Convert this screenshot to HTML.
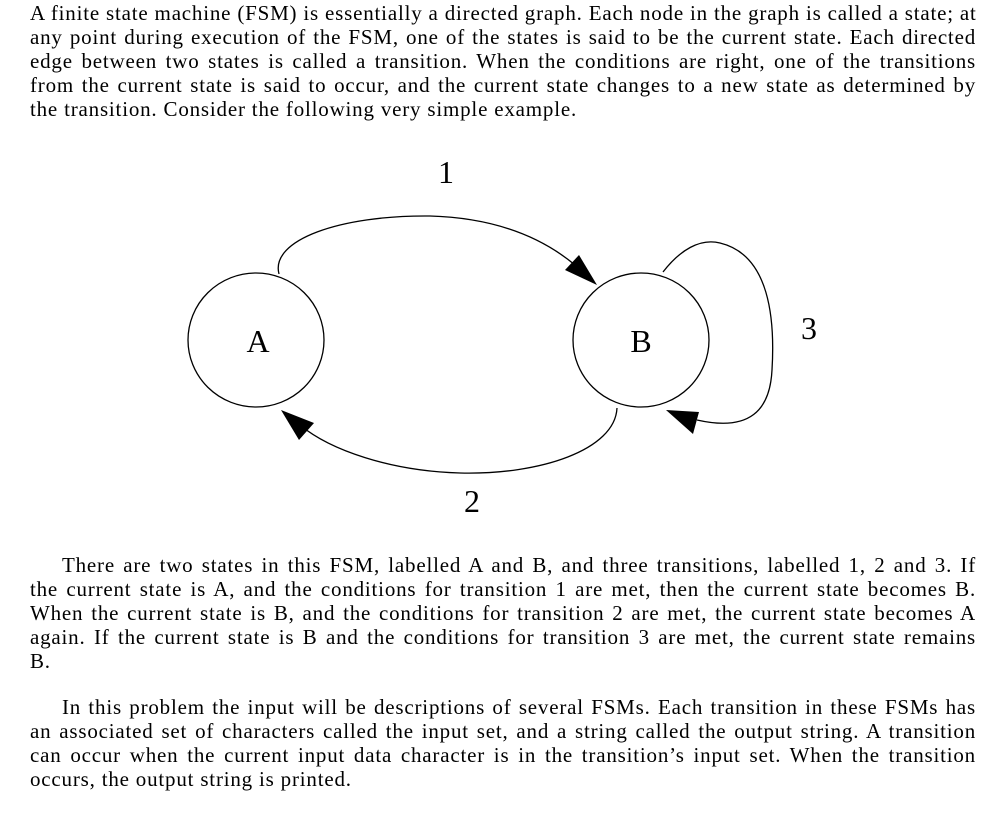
<!DOCTYPE html>
<html><head><meta charset="utf-8"><style>
body{margin:0;background:#fff;width:1006px;height:826px;overflow:hidden;font-family:"Liberation Serif",serif;color:#000}
.l{position:absolute;left:30px;width:946px;margin:0;font-size:21px;letter-spacing:0.8px;line-height:24px;text-align:justify;text-align-last:justify;white-space:nowrap}
.e{text-align-last:left}
</style></head><body>
<div class="l" style="top:1px">A finite state machine (FSM) is essentially a directed graph. Each node in the graph is called a state; at</div>
<div class="l" style="top:25px">any point during execution of the FSM, one of the states is said to be the current state. Each directed</div>
<div class="l" style="top:49px">edge between two states is called a transition. When the conditions are right, one of the transitions</div>
<div class="l" style="top:73px">from the current state is said to occur, and the current state changes to a new state as determined by</div>
<div class="l e" style="top:97px">the transition. Consider the following very simple example.</div>
<svg style="position:absolute;left:0;top:0" width="1006" height="826">
<g fill="none" stroke="#000" stroke-width="1.3">
<ellipse cx="256" cy="340" rx="68" ry="67"/>
<ellipse cx="641" cy="340" rx="68" ry="67"/>
<path d="M279 274 C270 240 340 215 430 216 C500 218 545 240 575 265"/>
<path d="M617 408 C615 450 540 475 460 473 C390 471 330 450 300 425"/>
<path d="M663 272 C680 250 700 238 720 243 C770 255 775 320 772 370 C770 410 750 432 697 420"/>
</g>
<g fill="#000">
<polygon points="597,285 565,270 579,255"/>
<polygon points="281,410 314,423 299,440"/>
<polygon points="666,410 699,412 693,434"/>
</g>
<g font-family="Liberation Serif" font-size="32" text-anchor="middle">
<text x="446" y="183">1</text>
<text x="472" y="512">2</text>
<text x="809" y="339">3</text>
<text x="258" y="352">A</text>
<text x="641" y="352">B</text>
</g>
</svg>
<div class="l" style="top:553px;left:62px;width:914px">There are two states in this FSM, labelled A and B, and three transitions, labelled 1, 2 and 3. If</div>
<div class="l" style="top:577px">the current state is A, and the conditions for transition 1 are met, then the current state becomes B.</div>
<div class="l" style="top:601px">When the current state is B, and the conditions for transition 2 are met, the current state becomes A</div>
<div class="l" style="top:625px">again. If the current state is B and the conditions for transition 3 are met, the current state remains</div>
<div class="l e" style="top:649px">B.</div>
<div class="l" style="top:695px;left:62px;width:914px">In this problem the input will be descriptions of several FSMs. Each transition in these FSMs has</div>
<div class="l" style="top:719px">an associated set of characters called the input set, and a string called the output string. A transition</div>
<div class="l" style="top:743px">can occur when the current input data character is in the transition’s input set. When the transition</div>
<div class="l e" style="top:767px">occurs, the output string is printed.</div>
</body></html>
